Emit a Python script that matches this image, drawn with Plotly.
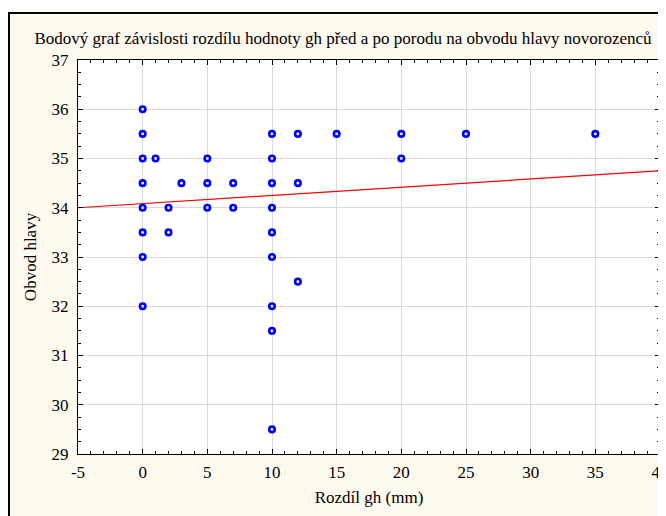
import plotly.graph_objects as go

# Data
x_diff = [0, 0, 0, 0, 0, 0, 0, 0,
          1,
          2, 2,
          3,
          5, 5, 5,
          7, 7,
          10, 10, 10, 10, 10, 10, 10, 10, 10,
          12, 12, 12,
          15,
          20, 20,
          25,
          35]
y_head = [36, 35.5, 35, 34.5, 34, 33.5, 33, 32,
          35,
          34, 33.5,
          34.5,
          35, 34.5, 34,
          34.5, 34,
          35.5, 35, 34.5, 34, 33.5, 33, 32, 31.5, 29.5,
          35.5, 34.5, 32.5,
          35.5,
          35.5, 35,
          35.5,
          35.5]

fit_x = [-5, 40]
fit_y = [34.0, 34.75]

x_ticks = [-5, 0, 5, 10, 15, 20, 25, 30, 35, 40]
y_ticks = [29, 30, 31, 32, 33, 34, 35, 36, 37]

title_text = "Bodový graf závislosti rozdílu hodnoty gh před a po porodu na obvodu hlavy novorozenců"
x_title = "Rozdíl gh (mm)"
y_title = "Obvod hlavy"

FONT = "Liberation Serif"
CREAM = "#FEFAEF"

fig = go.Figure()
fig.add_trace(go.Scatter(x=fit_x, y=fit_y, mode="lines",
                         line=dict(color="#FF0000", width=1.2),
                         hoverinfo="skip", showlegend=False))
fig.add_trace(go.Scatter(x=x_diff, y=y_head, mode="markers",
                         marker=dict(symbol="circle-open", size=5.5, color="#0000FF",
                                     line=dict(width=2.6, color="#0000FF")),
                         showlegend=False, cliponaxis=False))

# page body has an 8px margin, so the figure is sized/offset accordingly
W, H = 658, 508
L, R, T, B = 70, 6, 52, 62
pw, ph = W - L - R, H - T - B

def px2paper_x(px):
    return (px - L) / pw

def px2paper_y(py):
    return (H - B - py) / ph

# cream frame
fig.add_shape(type="rect", xref="paper", yref="paper", layer="below",
              x0=px2paper_x(1), x1=px2paper_x(700), y0=px2paper_y(560), y1=px2paper_y(5),
              fillcolor=CREAM, line=dict(color="#000000", width=2))
# white plot area
fig.add_shape(type="rect", xref="paper", yref="paper", layer="below",
              x0=0, x1=1, y0=0, y1=1, fillcolor="#FFFFFF", line=dict(width=0))

axis_common = dict(
    showline=True, linecolor="#000000", linewidth=1, mirror="ticks",
    ticks="inside", ticklen=5, tickcolor="#000000", tickwidth=1,
    showgrid=True, gridcolor="#DADADA", gridwidth=1,
    zeroline=False,
    ticklabeloverflow="allow",
    tickfont=dict(family=FONT, size=17, color="#000000"),
)

fig.update_xaxes(range=[-5, 40.0001], tickvals=x_ticks, ticktext=[str(v) for v in x_ticks],
                 minor=dict(dtick=1, ticks="inside", ticklen=3, tickcolor="#000000", showgrid=False),
                 title=dict(text=x_title, font=dict(family=FONT, size=17, color="#000000"), standoff=9),
                 ticklabelstandoff=3,
                 **axis_common)
fig.update_yaxes(range=[29, 37], tickvals=y_ticks, ticktext=[str(v) for v in y_ticks],
                 minor=dict(dtick=0.25, ticks="inside", ticklen=3, tickcolor="#000000", showgrid=False),
                 title=dict(text=y_title, font=dict(family=FONT, size=17, color="#000000"), standoff=10),
                 ticklabelstandoff=5,
                 **axis_common)

fig.update_layout(
    width=W, height=H,
    margin=dict(l=L, r=R, t=T, b=B, autoexpand=False),
    paper_bgcolor="#FFFFFF", plot_bgcolor="#FFFFFF",
    title=dict(text=title_text, x=335 / W, xref="container", xanchor="center",
               y=1 - 30 / H, yanchor="middle",
               font=dict(family=FONT, size=17, color="#000000")),
    font=dict(family=FONT, color="#000000"),
)

fig.write_html("out.html")
